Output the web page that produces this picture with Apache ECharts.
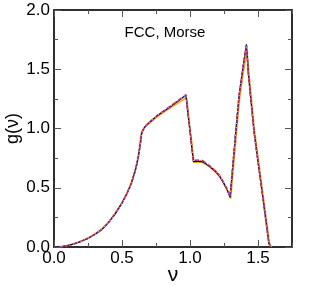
<!DOCTYPE html>
<html><head><meta charset="utf-8">
<script src="https://cdn.jsdelivr.net/npm/echarts@6/dist/echarts.min.js"></script>
<style>html,body{margin:0;padding:0;background:#fff}#c{width:310px;height:286px}</style>
</head><body><div id="c"></div>
<script>
const nu = [0.04, 0.10, 0.15, 0.20, 0.25, 0.30, 0.35, 0.40, 0.45, 0.50, 0.54, 0.57, 0.60, 0.62, 0.635, 0.645, 0.66, 0.675, 0.76, 0.85, 0.97, 1.025, 1.06, 1.09, 1.12, 1.15, 1.19, 1.22, 1.25, 1.275, 1.295, 1.31, 1.337, 1.36, 1.39, 1.415, 1.43, 1.47, 1.52, 1.58, 1.593];
const gBlack  = [0.0, 0.012, 0.027, 0.048, 0.073, 0.105, 0.145, 0.205, 0.28, 0.37, 0.46, 0.54, 0.655, 0.76, 0.87, 0.96, 1.0, 1.025, 1.11, 1.18, 1.28, 0.72, 0.725, 0.72, 0.70, 0.675, 0.635, 0.595, 0.535, 0.48, 0.42, 0.62, 0.98, 1.27, 1.52, 1.71, 1.45, 0.98, 0.55, 0.03, 0.0];
const gRed    = [0.0, 0.012, 0.027, 0.048, 0.073, 0.105, 0.145, 0.205, 0.28, 0.37, 0.46, 0.54, 0.655, 0.76, 0.87, 0.96, 1.0, 1.025, 1.11, 1.185, 1.285, 0.73, 0.735, 0.73, 0.71, 0.68, 0.64, 0.60, 0.54, 0.485, 0.43, 0.63, 0.98, 1.27, 1.52, 1.70, 1.45, 0.98, 0.55, 0.03, 0.0];
const gBlue   = [0.0, 0.012, 0.027, 0.048, 0.073, 0.105, 0.145, 0.205, 0.28, 0.37, 0.455, 0.535, 0.65, 0.755, 0.865, 0.955, 0.995, 1.02, 1.11, 1.18, 1.28, 0.725, 0.73, 0.725, 0.705, 0.675, 0.635, 0.595, 0.535, 0.48, 0.42, 0.62, 0.97, 1.26, 1.51, 1.71, 1.45, 0.98, 0.55, 0.03, 0.0];
const nuOrange = [0.04, 0.10, 0.15, 0.20, 0.25, 0.30, 0.35, 0.40, 0.45, 0.50, 0.54, 0.57, 0.60, 0.62, 0.632, 0.642, 0.66, 0.675, 0.76, 0.85, 0.975, 1.03, 1.06, 1.09, 1.12, 1.15, 1.19, 1.22, 1.25, 1.275, 1.30, 1.315, 1.342, 1.365, 1.395, 1.42, 1.435, 1.475, 1.525, 1.585, 1.60];
const gOrange = [0.0, 0.013, 0.029, 0.05, 0.076, 0.11, 0.15, 0.21, 0.285, 0.375, 0.465, 0.55, 0.665, 0.77, 0.88, 0.965, 1.0, 1.02, 1.10, 1.17, 1.26, 0.715, 0.715, 0.715, 0.695, 0.67, 0.63, 0.59, 0.53, 0.475, 0.41, 0.61, 0.96, 1.25, 1.49, 1.66, 1.45, 0.98, 0.55, 0.03, 0.0];
const xTicks = [0, 0.5, 1.0, 1.5];
const xMinor = [0.25, 0.75, 1.25, 1.75];
const yTicks = [0, 0.5, 1.0, 1.5, 2.0];
const yMinor = [0.25, 0.75, 1.25, 1.75];

const pairs = (xs, ys) => xs.map((x, i) => [x, ys[i]]);
const axisCol = '#222';
const lab = {fontFamily: 'Liberation Sans, Arial', fontSize: 17, color: '#000'};

function xAx(pos, vals, len, show, name) {
  return {
    type: 'value', position: pos, min: 0, max: 1.75,
    name: name || '', nameLocation: 'middle', nameGap: 18, nameMoveOverlap: false,
    nameTextStyle: {fontFamily: 'Liberation Sans, Arial', fontSize: 21, color: '#000'},
    axisLine: {show: true, onZero: false, lineStyle: {color: axisCol, width: 1.5}},
    axisTick: {show: true, inside: true, length: len, customValues: vals, lineStyle: {color: '#555', width: 1}},
    axisLabel: {show: show, customValues: vals, margin: 3, formatter: v => v.toFixed(1), ...lab},
    splitLine: {show: false}
  };
}
function yAx(pos, vals, len, show, name) {
  return {
    type: 'value', position: pos, min: 0, max: 2.0,
    name: name || '', nameLocation: 'middle', nameGap: 32, nameMoveOverlap: false,
    nameTextStyle: {fontFamily: 'Liberation Sans, Arial', fontSize: 18, color: '#000'},
    axisLine: {show: true, onZero: false, lineStyle: {color: axisCol, width: 1.5}},
    axisTick: {show: true, inside: true, length: len, customValues: vals, lineStyle: {color: '#555', width: 1}},
    axisLabel: {show: show, customValues: vals, margin: 4, formatter: v => v.toFixed(1), ...lab},
    splitLine: {show: false}
  };
}

const chart = echarts.init(document.getElementById('c'), null, {renderer: 'canvas'});
chart.setOption({
  animation: false,
  backgroundColor: '#fff',
  grid: {left: 54, right: 18, top: 10, bottom: 39, outerBoundsMode: 'none', containLabel: false},
  title: {text: 'FCC, Morse', left: 160, top: 20, textAlign: 'center',
    textStyle: {fontFamily: 'Liberation Sans, Arial', fontSize: 15, fontWeight: 'normal', color: '#000'}},
  xAxis: [
    xAx('bottom', xTicks, 7, true, 'ν'),
    xAx('bottom', xMinor, 4, false),
    xAx('top', xTicks, 7, false),
    xAx('top', xMinor, 4, false)
  ],
  yAxis: [
    yAx('left', yTicks, 7, true, 'g(ν)'),
    yAx('left', yMinor, 4, false),
    yAx('right', yTicks, 7, false),
    yAx('right', yMinor, 4, false)
  ],
  series: [
    {type: 'line', data: pairs(nuOrange, gOrange), symbol: 'none', lineStyle: {color: '#ffa500', width: 1.5}},
    {type: 'line', data: pairs(nu, gBlack), symbol: 'none', lineStyle: {color: '#000', width: 1.2}},
    {type: 'line', data: pairs(nu, gRed), symbol: 'none', lineStyle: {color: '#ff2020', width: 1.5, type: [4, 3]}},
    {type: 'line', data: pairs(nu, gBlue), symbol: 'none', lineStyle: {color: '#3030ff', width: 1.2, type: [3, 2, 1, 2]}},
    {type: 'line', data: pairs(nu, gRed), symbol: 'none', lineStyle: {color: '#ff9ab0', width: 1.2, type: [1, 3], dashOffset: 2}}
  ]
});
</script></body></html>
